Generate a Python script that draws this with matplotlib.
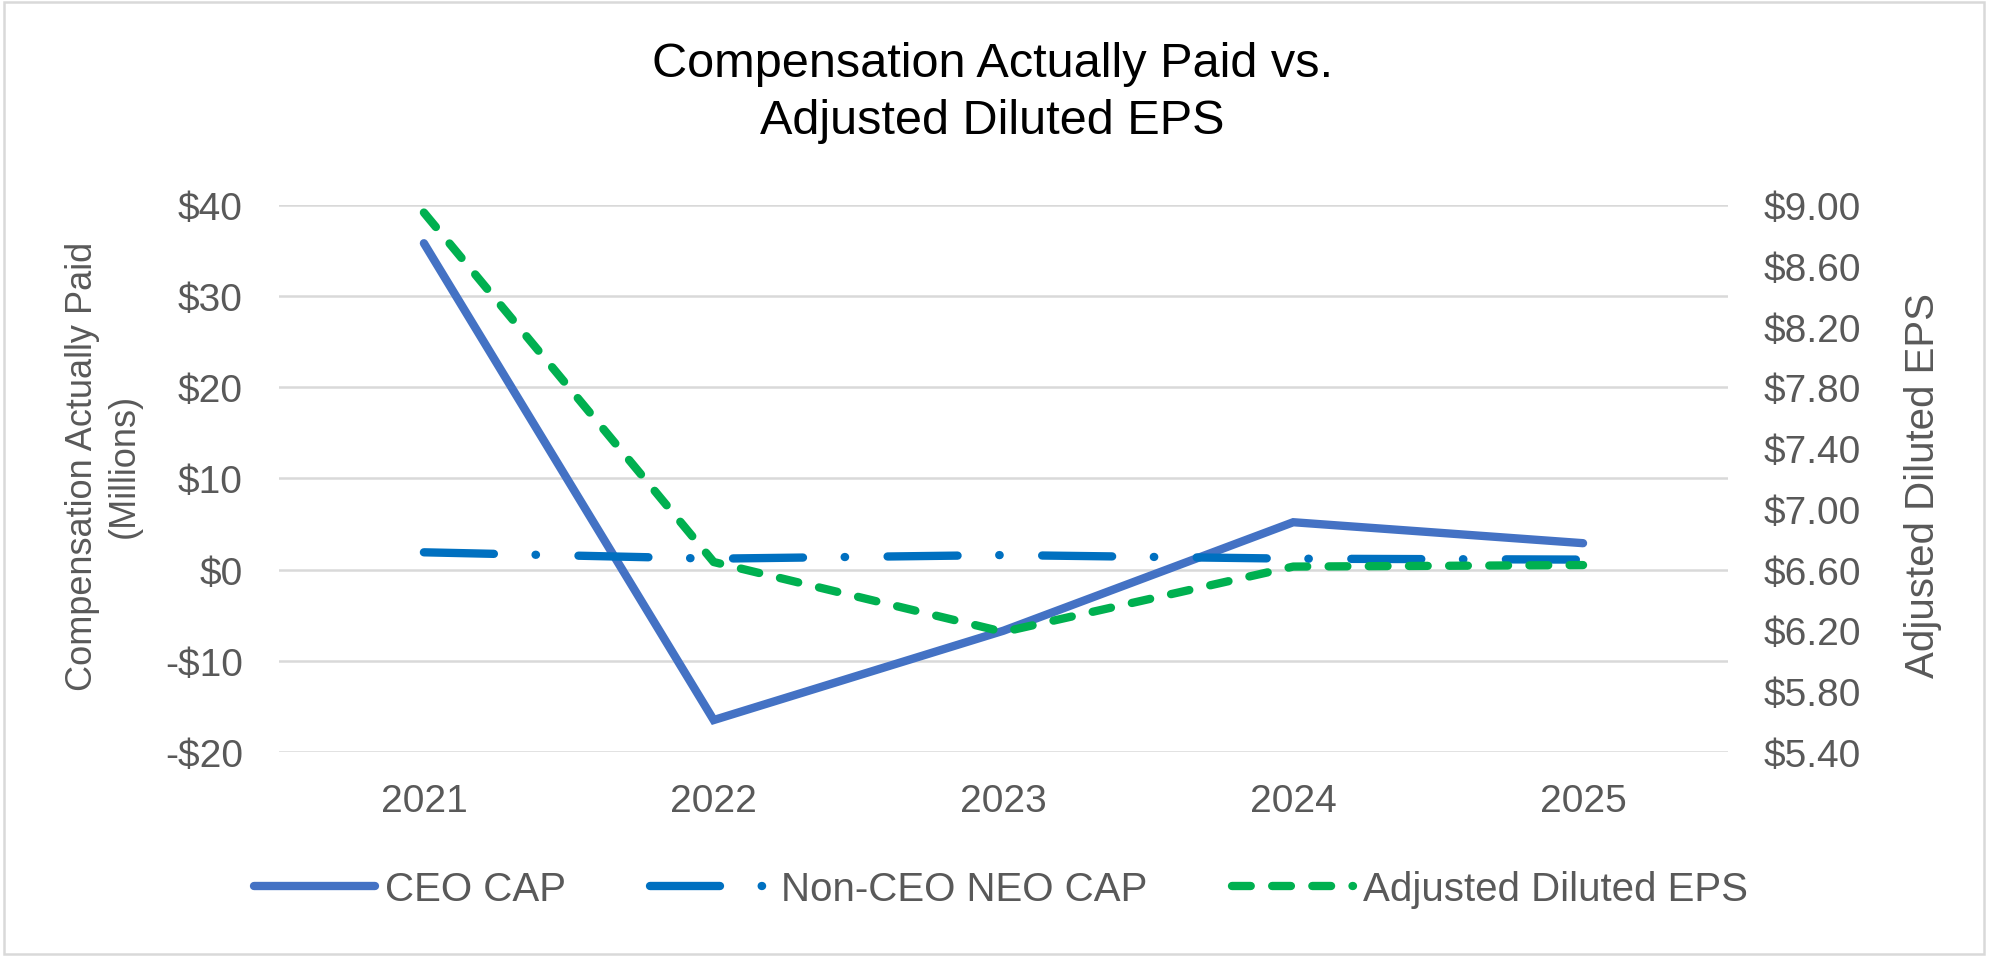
import numpy as np
import matplotlib
matplotlib.use("Agg")
import matplotlib.pyplot as plt
from matplotlib.patches import Rectangle
from matplotlib.ticker import FuncFormatter

plt.rcParams['font.family'] = ['Liberation Sans', 'DejaVu Sans']

years = ['2021', '2022', '2023', '2024', '2025']
ceo_cap = [35.8, -16.5, -6.7, 5.2, 2.9]          # $ millions
non_ceo_cap = [1.9, 1.2, 1.6, 1.2, 1.1]          # $ millions
adj_eps = [8.95, 6.65, 6.19, 6.62, 6.63]         # $ per share

grey = '#595959'
x = np.arange(len(years))

fig = plt.figure(figsize=(19.93, 9.62), dpi=100)
ax = fig.add_axes([0.140, 0.2173, 0.727, 0.5686])
ax2 = ax.twinx()

# left axis: CAP in millions
ax.plot(x, ceo_cap, color='#4472C4', lw=6, solid_capstyle='round',
        solid_joinstyle='miter', label='CEO CAP', zorder=3)
ax.plot(x, non_ceo_cap, color='#0070C0', lw=6, dashes=(8.4, 5.0, 0.05, 5.1),
        dash_capstyle='round', label='Non-CEO NEO CAP', zorder=4)

# right axis: adjusted diluted EPS
ax2.plot(x, adj_eps, color='#00B050', lw=6, dashes=(2.25, 2.57),
         dash_capstyle='round', label='Adjusted Diluted EPS', zorder=3)

ax.set_xlim(-0.5, len(years) - 0.5)
ax.set_ylim(-20, 40)
ax.set_yticks(np.arange(-20, 41, 10))
ax.yaxis.set_major_formatter(FuncFormatter(lambda v, p: f"-${abs(v):.0f}" if v < 0 else f"${v:.0f}"))
ax2.set_ylim(5.4, 9.0)
ax2.set_yticks(np.linspace(5.4, 9.0, 10))
ax2.yaxis.set_major_formatter(FuncFormatter(lambda v, p: f"${v:.2f}"))

ax.set_xticks(x)
ax.set_xticklabels(years)

ax.grid(axis='y', color='#D9D9D9', lw=1.8)
ax.set_axisbelow(True)
for a in (ax, ax2):
    for s in a.spines.values():
        s.set_visible(False)
    a.tick_params(length=0, labelsize=28, labelcolor=grey)
ax.tick_params(axis='y', pad=26)
ax.tick_params(axis='x', pad=22)
ax2.tick_params(axis='y', pad=26)

fig.text(0.498, 0.903, 'Compensation Actually Paid vs.\nAdjusted Diluted EPS',
         ha='center', va='center', fontsize=35, color='black', linespacing=1.34)
fig.text(103 / 1993, 1 - 466 / 962, 'Compensation Actually Paid\n(Millions)',
         rotation=90, ha='center', va='center', fontsize=26, color=grey,
         multialignment='center', linespacing=1.25)
fig.text(1923 / 1993, 1 - 485 / 962, 'Adjusted Diluted EPS',
         rotation=90, ha='center', va='center', fontsize=29, color=grey)

h1, l1 = ax.get_legend_handles_labels()
h2, l2 = ax2.get_legend_handles_labels()
leg = fig.legend(h1 + h2, l1 + l2, loc='center', bbox_to_anchor=(1001 / 1993, 1 - 890 / 962),
                 ncol=3, frameon=False, fontsize=29, handlelength=3.0,
                 handletextpad=0.25, columnspacing=2.1)
for t in leg.get_texts():
    t.set_color(grey)

# chart border
fig.patches.append(Rectangle((4 / 1993, 7 / 962), 1980 / 1993, 952 / 962,
                             transform=fig.transFigure, fill=False,
                             edgecolor='#D9D9D9', lw=1.8))

fig.savefig('out.png', dpi=100)
